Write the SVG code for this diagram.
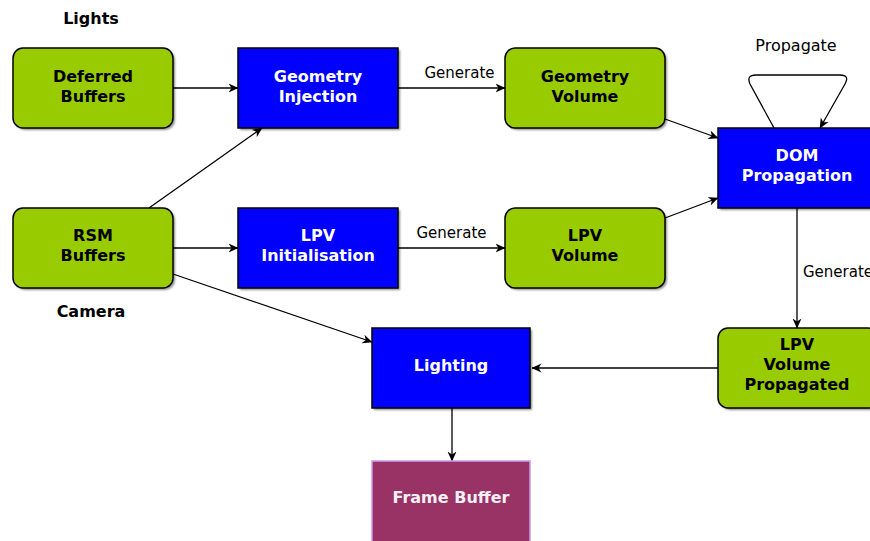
<svg xmlns="http://www.w3.org/2000/svg" width="870" height="541" viewBox="0 0 870 541">
<defs>
<marker id="arr" viewBox="0 0 10 10" refX="9.5" refY="5" markerWidth="10" markerHeight="10" markerUnits="userSpaceOnUse" orient="auto">
<path d="M0,0.5 L10,5 L0,9.5 L3,5 z" fill="#000"/>
</marker>
<filter id="sh" x="-10%" y="-10%" width="130%" height="130%">
<feGaussianBlur stdDeviation="1"/>
</filter>
</defs>
<style>
.g{fill:#99cc00;stroke:#000;stroke-width:1.5}
.b{fill:#0000ff;stroke:#000;stroke-width:1.5}
.f{fill:#993366;stroke:#cc99ee;stroke-width:1.5}
.s{fill:#000;opacity:0.45;filter:url(#sh)}
.tb{font-family:"DejaVu Sans",sans-serif;font-weight:bold;font-size:16px;text-anchor:middle;fill:#000}
.tw{font-family:"DejaVu Sans",sans-serif;font-weight:bold;font-size:16px;text-anchor:middle;fill:#fff}
.tl{font-family:"DejaVu Sans",sans-serif;font-size:15px;fill:#000}
.c{fill:none;stroke:#000;stroke-width:1.3;marker-end:url(#arr)}
</style>
<rect width="870" height="541" fill="#fff"/>
<text class="tb" x="91" y="24">Lights</text>
<text class="tb" x="91" y="317">Camera</text>
<g id="connectors">
<path class="c" d="M173,88 L238,88"/>
<path class="c" d="M149,208 L262,128"/>
<path class="c" d="M398,88 L505,88"/>
<path class="c" d="M173,248 L238,248"/>
<path class="c" d="M398,248 L505,248"/>
<path class="c" d="M665,119 L718,138"/>
<path class="c" d="M665,218 L718,198"/>
<path class="c" d="M774,128 L750,84 Q746,75 756,75 L840,75 Q850,75 845,84 L820,128"/>
<path class="c" d="M797,208 L797,328"/>
<path class="c" d="M718,368 L532,368"/>
<path class="c" d="M173,274 L372,342"/>
<path class="c" d="M452,408 L452,461"/>
<text class="tl" x="459.5" y="78" text-anchor="middle">Generate</text>
<text class="tl" x="451.5" y="238" text-anchor="middle">Generate</text>
<text class="tl" x="803" y="277">Generate</text>
<text class="tl" x="796" y="51" text-anchor="middle" style="font-size:16px">Propagate</text>
</g>
<g id="deferred-buffers">
<rect class="s" x="15" y="50" width="160" height="80" rx="10"/>
<rect class="g" x="13" y="48" width="160" height="80" rx="10"/>
<text class="tb" x="93" y="82">Deferred</text>
<text class="tb" x="93" y="102">Buffers</text>
</g>
<g id="geometry-injection">
<rect class="s" x="240" y="50" width="160" height="80"/>
<rect class="b" x="238" y="48" width="160" height="80"/>
<text class="tw" x="318" y="82">Geometry</text>
<text class="tw" x="318" y="102">Injection</text>
</g>
<g id="geometry-volume">
<rect class="s" x="507" y="50" width="160" height="80" rx="10"/>
<rect class="g" x="505" y="48" width="160" height="80" rx="10"/>
<text class="tb" x="585" y="82">Geometry</text>
<text class="tb" x="585" y="102">Volume</text>
</g>
<g id="dom-propagation">
<rect class="s" x="720" y="130" width="160" height="80"/>
<rect class="b" x="718" y="128" width="160" height="80"/>
<text class="tw" x="797" y="161">DOM</text>
<text class="tw" x="797" y="181">Propagation</text>
</g>
<g id="rsm-buffers">
<rect class="s" x="15" y="210" width="160" height="80" rx="10"/>
<rect class="g" x="13" y="208" width="160" height="80" rx="10"/>
<text class="tb" x="93" y="241">RSM</text>
<text class="tb" x="93" y="261">Buffers</text>
</g>
<g id="lpv-initialisation">
<rect class="s" x="240" y="210" width="160" height="80"/>
<rect class="b" x="238" y="208" width="160" height="80"/>
<text class="tw" x="318" y="241">LPV</text>
<text class="tw" x="318" y="261">Initialisation</text>
</g>
<g id="lpv-volume">
<rect class="s" x="507" y="210" width="160" height="80" rx="10"/>
<rect class="g" x="505" y="208" width="160" height="80" rx="10"/>
<text class="tb" x="585" y="241">LPV</text>
<text class="tb" x="585" y="261">Volume</text>
</g>
<g id="lpv-volume-propagated">
<rect class="s" x="720" y="330" width="160" height="80" rx="10"/>
<rect class="g" x="718" y="328" width="160" height="80" rx="10"/>
<text class="tb" x="797" y="350">LPV</text>
<text class="tb" x="797" y="370">Volume</text>
<text class="tb" x="797" y="390">Propagated</text>
</g>
<g id="lighting">
<rect class="s" x="374" y="330" width="158" height="80"/>
<rect class="b" x="372" y="328" width="158" height="80"/>
<text class="tw" x="451" y="371">Lighting</text>
</g>
<g id="frame-buffer">
<rect class="f" x="372" y="461" width="158" height="90"/>
<text class="tw" x="451" y="503" style="fill:#f4f0f4">Frame Buffer</text>
</g>
</svg>
